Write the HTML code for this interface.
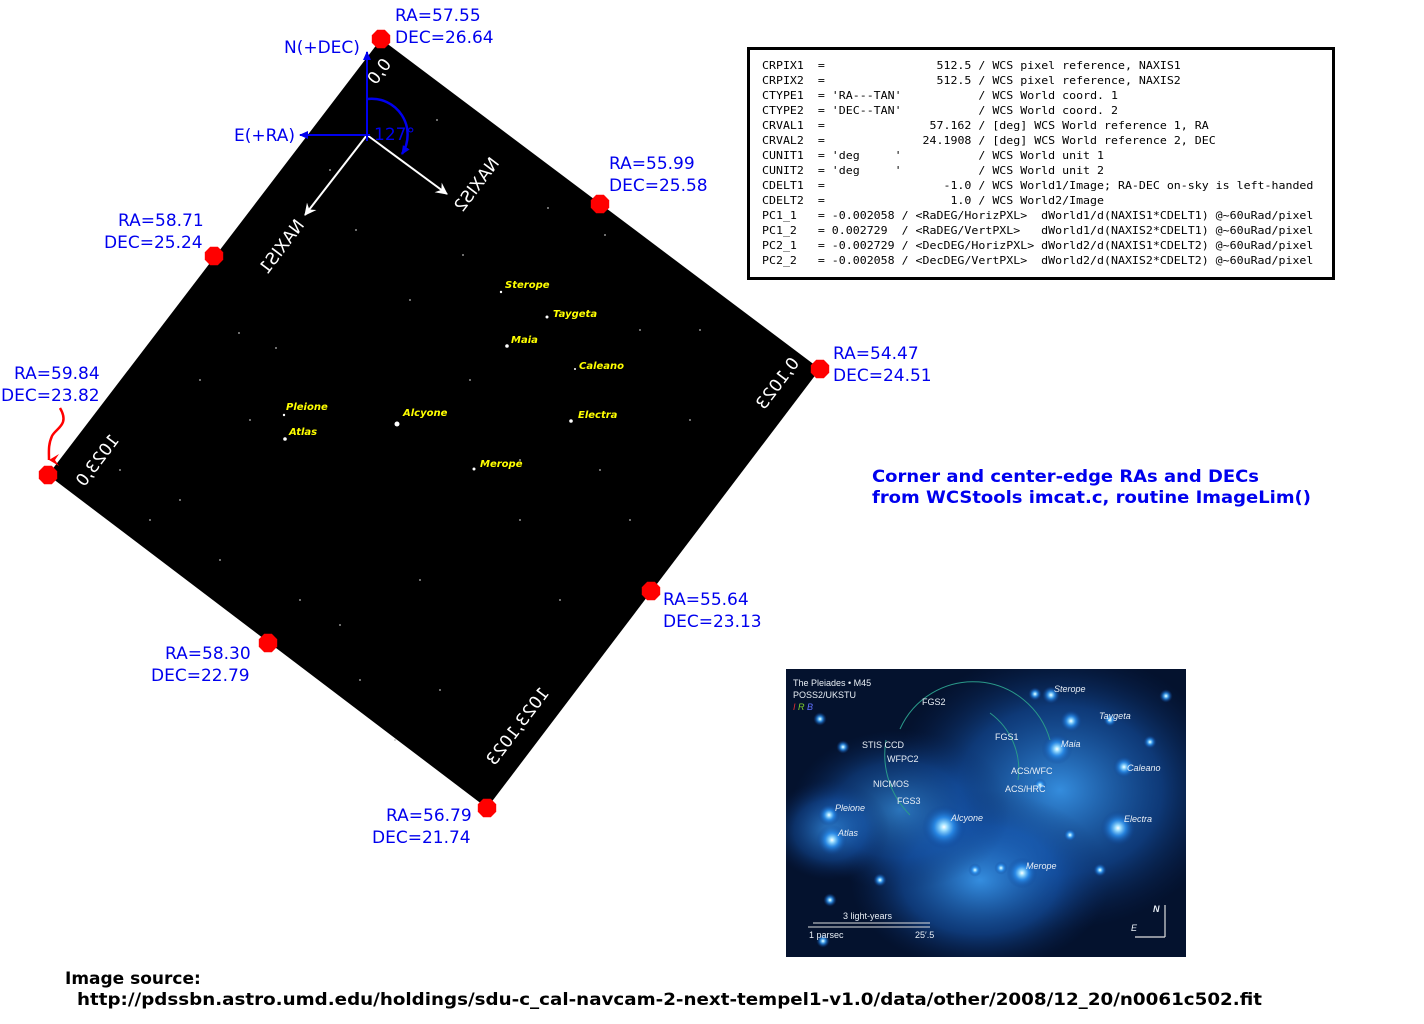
<!DOCTYPE html>
<html><head><meta charset="utf-8"><style>
html,body{margin:0;padding:0;background:#fff;}
svg{display:block;}
.bl{font-family:"DejaVu Sans","Liberation Sans",sans-serif;fill:#0000ee;font-size:17px;}
.wt{font-family:"DejaVu Sans","Liberation Sans",sans-serif;fill:#fff;font-size:17px;}
.st{font-family:"DejaVu Sans","Liberation Sans",sans-serif;fill:#ffff00;font-size:10px;font-style:italic;font-weight:bold;}
.mono{font-family:"DejaVu Sans Mono","Liberation Mono",monospace;font-size:10.3px;fill:#000;}
.ins{font-family:"Liberation Sans",sans-serif;fill:#e8eef5;font-size:9px;}
</style></head><body>
<svg id="fig" width="1424" height="1024" viewBox="0 0 1424 1024" xmlns="http://www.w3.org/2000/svg">
<defs>
<marker id="ab" markerWidth="10" markerHeight="10" refX="8" refY="5" orient="auto" markerUnits="userSpaceOnUse"><path d="M0,1 L9,5 L0,9 z" fill="#0000ee"/></marker>
<marker id="aw" markerWidth="14" markerHeight="14" refX="11" refY="7" orient="auto" markerUnits="userSpaceOnUse"><path d="M0,1 L12,7 L0,13 L4,7 z" fill="#fff"/></marker>
<marker id="ar" markerWidth="12" markerHeight="12" refX="6" refY="10" orient="auto" markerUnits="userSpaceOnUse"><path d="M0,0 L6,10 L12,0 L6,4 z" fill="#f00"/></marker>
<radialGradient id="glow"><stop offset="0" stop-color="#ffffff"/><stop offset="0.15" stop-color="#9fe0ff"/><stop offset="0.45" stop-color="#2a90f0" stop-opacity="0.8"/><stop offset="1" stop-color="#0a3a8a" stop-opacity="0"/></radialGradient>
<radialGradient id="neb"><stop offset="0" stop-color="#3a9af0" stop-opacity="0.9"/><stop offset="0.6" stop-color="#1860c0" stop-opacity="0.5"/><stop offset="1" stop-color="#0b2c66" stop-opacity="0"/></radialGradient>
<clipPath id="insclip"><rect x="786" y="669" width="400" height="288"/></clipPath>
</defs>

<polygon points="381,39 820,369 487,808 48,475" fill="#000"/>
<g id="faint"></g>
<g id="stars"></g>

<text class="wt" transform="translate(392,64) rotate(127) scale(1,-1)">0,0</text>
<text class="wt" transform="translate(120,440) rotate(127) scale(1,-1)">1023,0</text>
<text class="wt" transform="translate(800,363) rotate(127) scale(1,-1)">0,1023</text>
<text class="wt" transform="translate(550,693) rotate(127) scale(1,-1)">1023,1023</text>
<text class="wt" transform="translate(305,225) rotate(127) scale(1,-1)">NAXIS1</text>
<text class="wt" transform="translate(500,163) rotate(127) scale(1,-1)">NAXIS2</text>

<line x1="367" y1="135" x2="305" y2="215" stroke="#fff" stroke-width="2" marker-end="url(#aw)"/>
<line x1="367" y1="135" x2="447" y2="194" stroke="#fff" stroke-width="2" marker-end="url(#aw)"/>
<line x1="367" y1="141" x2="367" y2="52" stroke="#0000ee" stroke-width="2" marker-end="url(#ab)"/>
<line x1="370" y1="135" x2="300" y2="135" stroke="#0000ee" stroke-width="2" marker-end="url(#ab)"/>
<path d="M367,99 A36,36 0 0 1 402,154" fill="none" stroke="#0000ee" stroke-width="2.5" marker-end="url(#ab)"/>
<text class="bl" x="374" y="140" font-size="12">127°</text>
<text class="bl" x="284" y="53">N(+DEC)</text>
<text class="bl" x="234" y="141">E(+RA)</text>

<g id="markers"></g>
<g id="coords"></g>

<path d="M60,408 C70,425 56,428 52,436 C48,445 49,452 49,460" fill="none" stroke="#f00" stroke-width="2.5" marker-end="url(#ar)"/>

<rect x="748.5" y="48.5" width="585" height="230" fill="#fff" stroke="#000" stroke-width="3"/>
<g id="hdr"></g>

<text class="bl" x="872" y="482" font-weight="bold" font-size="18" textLength="387" lengthAdjust="spacingAndGlyphs">Corner and center-edge RAs and DECs</text>
<text class="bl" x="872" y="503" font-weight="bold" font-size="18" textLength="439" lengthAdjust="spacingAndGlyphs">from WCStools imcat.c, routine ImageLim()</text>

<g clip-path="url(#insclip)">
<rect x="786" y="669" width="400" height="288" fill="#04122e"/>
<ellipse cx="1060" cy="790" rx="170" ry="140" fill="url(#neb)"/>
<ellipse cx="980" cy="880" rx="130" ry="90" fill="url(#neb)"/>
<ellipse cx="900" cy="810" rx="110" ry="80" fill="url(#neb)" opacity="0.8"/>
<ellipse cx="830" cy="830" rx="60" ry="50" fill="url(#neb)" opacity="0.8"/>
<g id="instars"></g>
<path d="M900,729 A80,80 0 0 1 1050,740" fill="none" stroke="#2a9a8a" stroke-width="1"/>
<path d="M886,740 A85,85 0 0 0 910,815" fill="none" stroke="#2a9a8a" stroke-width="1"/>
<path d="M990,713 A70,70 0 0 1 1018,780" fill="none" stroke="#2a9a8a" stroke-width="1"/>
<text class="ins" x="793" y="686">The Pleiades • M45</text>
<text class="ins" x="793" y="698">POSS2/UKSTU</text>
<text class="ins" x="793" y="710" font-style="italic"><tspan fill="#e03030">I</tspan> <tspan fill="#80d030">R</tspan> <tspan fill="#6070ff">B</tspan></text>
<text class="ins" x="922" y="705" font-size="8">FGS2</text>
<text class="ins" x="995" y="740" font-size="8">FGS1</text>
<text class="ins" x="897" y="804" font-size="8">FGS3</text>
<text class="ins" x="862" y="748" font-size="8">STIS CCD</text>
<text class="ins" x="887" y="762" font-size="8">WFPC2</text>
<text class="ins" x="873" y="787" font-size="8">NICMOS</text>
<text class="ins" x="1011" y="774" font-size="8">ACS/WFC</text>
<text class="ins" x="1005" y="792" font-size="8">ACS/HRC</text>
<g id="innames" font-style="italic"></g>
<line x1="813" y1="923" x2="930" y2="923" stroke="#ddd" stroke-width="1"/>
<line x1="808" y1="927" x2="930" y2="927" stroke="#ddd" stroke-width="1"/>
<text class="ins" x="843" y="919" font-size="9">3 light-years</text>
<text class="ins" x="809" y="938" font-size="8.5">1 parsec</text>
<text class="ins" x="915" y="938" font-size="8.5">25′.5</text>
<line x1="1165" y1="937" x2="1165" y2="905" stroke="#ddd" stroke-width="1.2"/>
<line x1="1165" y1="937" x2="1135" y2="937" stroke="#ddd" stroke-width="1.2"/>
<text class="ins" x="1153" y="912" font-weight="bold" font-style="italic">N</text>
<text class="ins" x="1131" y="931" font-style="italic">E</text>
</g>

<text x="65" y="984" font-family="DejaVu Sans,Liberation Sans,sans-serif" font-weight="bold" font-size="17">Image source:</text>
<text x="77" y="1005" font-family="DejaVu Sans,Liberation Sans,sans-serif" font-weight="bold" font-size="17" textLength="1185" lengthAdjust="spacingAndGlyphs">http://pdssbn.astro.umd.edu/holdings/sdu-c_cal-navcam-2-next-tempel1-v1.0/data/other/2008/12_20/n0061c502.fit</text>
</svg>
<script>
const NS='http://www.w3.org/2000/svg';
const markerX=[381,600,820,651,487,268,48,214];
const markerY=[39,204,369,591,808,643,475,256];
const raValues=['57.55','55.99','54.47','55.64','56.79','58.30','59.84','58.71'];
const decValues=['26.64','25.58','24.51','23.13','21.74','22.79','23.82','25.24'];
const labelX=[395,609,833,663,386,165,14,118];
const labelY=[21,169,359,605,821,659,379,226];
const labelX2=[395,609,833,663,372,151,1,104];
const starNames=['Sterope','Taygeta','Maia','Caleano','Electra','Alcyone','Pleione','Atlas','Merope'];
const starX=[501,547,507,575,571,397,284,285,474];
const starY=[292,317,346,369,421,424,415,439,469];
const starR=[1.2,1.5,1.8,1,1.8,2.5,1.2,1.8,1.5];
const nameDX=[4,6,4,4,7,6,2,4,6];
const nameDY=[-4,0,-3,0,-3,-8,-5,-4,-2];
const faintX=[239,276,330,356,437,463,548,605,640,120,180,220,300,420,520,360,395,560,690,200,150,340,440,600,470,250,410,630,520,700];
const faintY=[333,348,170,230,120,255,208,235,330,470,500,560,600,580,520,680,740,600,420,380,520,625,690,470,380,420,300,520,460,330];
const inX=[1051,1071,1057,1124,1118,944,829,832,1022,1035,1001,975,880,820,823,1166,1070,1150,1100,1110,1040,830,843];
const inY=[695,721,749,767,828,827,815,840,873,694,868,870,880,719,941,696,835,742,870,720,785,900,747];
const inR=[4,5,7,5,8,10,5,7,7,3,3,3,3,3,3,3,3,3,3,3,3,3,3];
const inNames=['Sterope','Taygeta','Maia','Caleano','Electra','Alcyone','Pleione','Atlas','Merope'];
const inNameX=[1054,1099,1061,1127,1124,951,835,838,1026];
const inNameY=[692,719,747,771,822,821,811,836,869];

function mk(tag,parent){const e=document.createElementNS(NS,tag);parent.appendChild(e);return e;}
const faint=document.getElementById('faint');
for(let i=0;i<faintX.length;i++){const c=mk('circle',faint);c.setAttribute('cx',faintX[i]);c.setAttribute('cy',faintY[i]);c.setAttribute('r',0.9);c.setAttribute('fill','#bbb');

}
const stars=document.getElementById('stars');
for(let i=0;i<starNames.length;i++){
 const c=mk('circle',stars);c.setAttribute('cx',starX[i]);c.setAttribute('cy',starY[i]);c.setAttribute('r',starR[i]);c.setAttribute('fill','#fff');
 
 
 const t=mk('text',stars);t.setAttribute('class','st');t.setAttribute('x',starX[i]+nameDX[i]);t.setAttribute('y',starY[i]+nameDY[i]);t.textContent=starNames[i];
 
 
}
const mg=document.getElementById('markers'),cg=document.getElementById('coords');
for(let i=0;i<markerX.length;i++){
 const r=10,a=22.5*Math.PI/180;let pts=[];
 for(let k=0;k<8;k++){const ang=a+k*Math.PI/4;pts.push((markerX[i]+r*Math.cos(ang)).toFixed(1)+','+(markerY[i]+r*Math.sin(ang)).toFixed(1));}
 const p=mk('polygon',mg);p.setAttribute('points',pts.join(' '));p.setAttribute('fill','#f00');
 
 
 const t1=mk('text',cg);t1.setAttribute('class','bl');t1.setAttribute('x',labelX[i]);t1.setAttribute('y',labelY[i]);t1.textContent='RA='+raValues[i];
 
 
 const t2=mk('text',cg);t2.setAttribute('class','bl');t2.setAttribute('x',labelX2[i]);t2.setAttribute('y',labelY[i]+22);t2.textContent='DEC='+decValues[i];
 
 
}
const hdrLines=[
"CRPIX1  =                512.5 / WCS pixel reference, NAXIS1",
"CRPIX2  =                512.5 / WCS pixel reference, NAXIS2",
"CTYPE1  = 'RA---TAN'           / WCS World coord. 1",
"CTYPE2  = 'DEC--TAN'           / WCS World coord. 2",
"CRVAL1  =               57.162 / [deg] WCS World reference 1, RA",
"CRVAL2  =              24.1908 / [deg] WCS World reference 2, DEC",
"CUNIT1  = 'deg     '           / WCS World unit 1",
"CUNIT2  = 'deg     '           / WCS World unit 2",
"CDELT1  =                 -1.0 / WCS World1/Image; RA-DEC on-sky is left-handed",
"CDELT2  =                  1.0 / WCS World2/Image",
"PC1_1   = -0.002058 / <RaDEG/HorizPXL>  dWorld1/d(NAXIS1*CDELT1) @~60uRad/pixel",
"PC1_2   = 0.002729  / <RaDEG/VertPXL>   dWorld1/d(NAXIS2*CDELT1) @~60uRad/pixel",
"PC2_1   = -0.002729 / <DecDEG/HorizPXL> dWorld2/d(NAXIS1*CDELT2) @~60uRad/pixel",
"PC2_2   = -0.002058 / <DecDEG/VertPXL>  dWorld2/d(NAXIS2*CDELT2) @~60uRad/pixel"];
const hg=document.getElementById('hdr');
hdrLines.forEach((s,i)=>{const t=mk('text',hg);t.setAttribute('class','mono');t.setAttribute('x',762);t.setAttribute('y',69+i*15);t.setAttribute('xml:space','preserve');t.style.whiteSpace='pre';t.textContent=s;
 t.setAttribute('textLength',(s.length*6.98).toFixed(1));t.setAttribute('lengthAdjust','spacingAndGlyphs');
 
 });
const ig=document.getElementById('instars');
for(let i=0;i<inX.length;i++){const c=mk('circle',ig);c.setAttribute('cx',inX[i]);c.setAttribute('cy',inY[i]);c.setAttribute('r',inR[i]*2.2);c.setAttribute('fill','url(#glow)');
 
 }
const ng=document.getElementById('innames');
inNames.forEach((n,i)=>{const t=mk('text',ng);t.setAttribute('class','ins');t.setAttribute('font-size','8.5');t.setAttribute('x',inNameX[i]);t.setAttribute('y',inNameY[i]);t.textContent=n;
 
 });
</script>
</body></html>
